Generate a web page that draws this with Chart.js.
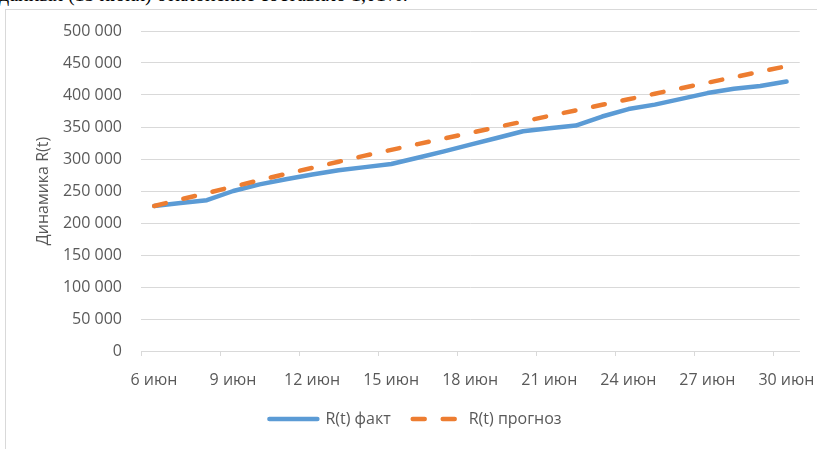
<!DOCTYPE html>
<html lang="ru">
<head>
<meta charset="utf-8">
<title>Динамика R(t)</title>
<script src="https://cdn.jsdelivr.net/npm/chart.js@4.4.1/dist/chart.umd.min.js"></script>
<style>
  html, body { margin: 0; padding: 0; background: #ffffff; }
  body { width: 817px; height: 449px; position: relative; overflow: hidden; }
  #lead {
    position: absolute; left: -1px; top: -16px;
    font: 20px/20px "Liberation Serif", "DejaVu Serif", serif;
    color: #000; white-space: nowrap;
  }
  #frame {
    position: absolute; left: 5px; top: 9px; width: 820px; height: 460px;
    border-left: 1px solid #d9d9d9; border-top: 1px solid #d9d9d9;
    pointer-events: none;
  }
  #c { position: absolute; left: 0; top: 0; }
</style>
</head>
<body>
<div id="lead">данных (15 июня) отклонение составило 1,01%.</div>
<div id="frame"></div>
<canvas id="c" width="817" height="449"></canvas>
<script>
// Days of June covered by the series (6 June … 30 June)
const juneDays = [6, 7, 8, 9, 10, 11, 12, 13, 14, 15, 16, 17, 18, 19, 20,
                  21, 22, 23, 24, 25, 26, 27, 28, 29, 30];

// Observed R(t)
const factValues = [226600, 231200, 235600, 250000, 260300, 268300, 275800,
                    282300, 287300, 292200, 302000, 311900, 322500, 332800,
                    343300, 348000, 352300, 366400, 378000, 385000, 394000,
                    403000, 409700, 414000, 421000];

// Forecast R(t)
const forecastValues = [226600, 236800, 246800, 256800, 266800, 276700, 286200,
                        295800, 305300, 314300, 323200, 332100, 340900, 349700,
                        358500, 367400, 376000, 384700, 393300, 402000, 410600,
                        419200, 427800, 436400, 445000];

// Axis labels every third day
const tickLabels = ['6 июн', '9 июн', '12 июн', '15 июн', '18 июн',
                    '21 июн', '24 июн', '27 июн', '30 июн'];
const tickDays = [6, 9, 12, 15, 18, 21, 24, 27, 30];

const seriesNames = ['R(t) факт', 'R(t) прогноз'];
const yTitle = 'Динамика R(t)';

const BLUE = '#5b9bd5';
const ORANGE = '#ed7d31';
const GRID = '#d9d9d9';
const TEXT = '#595959';
const FONT = "'Open Sans', 'Noto Sans', sans-serif";

// Each day is a one-day slot on the date axis; a value sits in the middle of its slot.
const firstDay = juneDays[0];
const slot = d => d - firstDay;
const toPoints = vals => vals.map((v, i) => ({ x: slot(juneDays[i]) + 0.5, y: v }));

const fmt = v => String(v).replace(/\B(?=(\d{3})+(?!\d))/g, ' ');

const chart = new Chart(document.getElementById('c'), {
  type: 'line',
  data: {
    datasets: [
      {
        label: seriesNames[0],
        data: toPoints(factValues),
        borderColor: BLUE,
        backgroundColor: BLUE,
        borderWidth: 4.5,
        borderCapStyle: 'round',
        borderJoinStyle: 'round',
        pointRadius: 0,
        tension: 0,
        order: 1
      },
      {
        label: seriesNames[1],
        data: toPoints(forecastValues),
        borderColor: ORANGE,
        backgroundColor: ORANGE,
        borderWidth: 4.5,
        borderDash: [12, 18],
        borderCapStyle: 'round',
        borderJoinStyle: 'round',
        pointRadius: 0,
        tension: 0,
        order: 0
      }
    ]
  },
  options: {
    responsive: false,
    animation: false,
    devicePixelRatio: 1,
    layout: { padding: { left: 29, right: 15, top: 31, bottom: 12 } },
    plugins: {
      tooltip: { enabled: false },
      legend: {
        position: 'bottom',
        labels: {
          usePointStyle: true,
          pointStyleWidth: 48,
          padding: 22,
          color: TEXT,
          font: { family: FONT, size: 16 },
          generateLabels: (ch) => ch.data.datasets.map((ds, i) => ({
            text: ds.label,
            fillStyle: ds.borderColor,
            strokeStyle: ds.borderColor,
            lineWidth: 4.5,
            lineDash: ds.borderDash || [],
            lineCap: 'round',
            pointStyle: 'line',
            fontColor: TEXT,
            hidden: false,
            datasetIndex: i
          }))
        }
      }
    },
    scales: {
      x: {
        type: 'linear',
        min: 0,
        max: juneDays.length,
        afterBuildTicks: (s) => { s.ticks = tickDays.map(d => ({ value: slot(d) })); },
        afterFit: (s) => { s.height = 38; },
        grid: {
          drawOnChartArea: false,
          drawTicks: true,
          tickLength: 5,
          color: GRID,
          lineWidth: 1
        },
        border: { display: true, color: GRID, width: 1 },
        ticks: {
          autoSkip: false,
          maxRotation: 0,
          padding: 15,
          labelOffset: 13,
          color: TEXT,
          font: { family: FONT, size: 16 },
          callback: (v) => {
            const k = tickDays.findIndex(d => slot(d) === v);
            return k >= 0 ? tickLabels[k] : '';
          }
        }
      },
      y: {
        min: 0,
        max: 500000,
        afterFit: (s) => { s.width = 112; },
        grid: { color: GRID, lineWidth: 1, drawTicks: false },
        border: { display: false },
        ticks: {
          stepSize: 50000,
          padding: 19,
          color: TEXT,
          font: { family: FONT, size: 16 },
          callback: (v) => fmt(v)
        },
        title: {
          display: true,
          text: yTitle,
          color: TEXT,
          font: { family: FONT, size: 16 },
          padding: { top: 5, bottom: 0 }
        }
      }
    }
  }
});
</script>
</body>
</html>
